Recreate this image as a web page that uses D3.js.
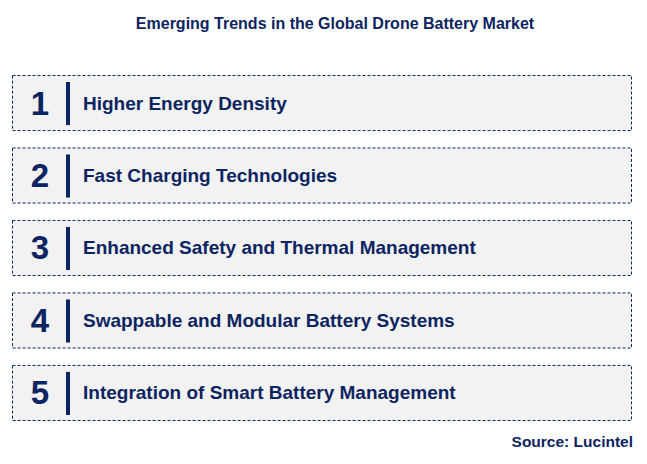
<!DOCTYPE html>
<meta charset="utf-8">
<script src="https://d3js.org/d3.v7.min.js"></script>
<style>body{margin:0;background:#fff;font-family:"Liberation Sans",Arial,sans-serif;}</style>
<div id="chart"></div>
<script>
const ranks = ["1", "2", "3", "4", "5"];
const trends = [
  "Higher Energy Density",
  "Fast Charging Technologies",
  "Enhanced Safety and Thermal Management",
  "Swappable and Modular Battery Systems",
  "Integration of Smart Battery Management"
];

const width = 647, height = 464, navy = "#0c2461";
const svg = d3.select("#chart").append("svg")
  .attr("width", width).attr("height", height);

svg.append("text").attr("x", 335).attr("y", 29).attr("text-anchor", "middle")
  .attr("font-size", 16).attr("font-weight", "bold").attr("fill", navy)
  .text("Emerging Trends in the Global Drone Battery Market");

const y = d3.scaleBand().domain(ranks).range([75, 420]).paddingInner(0.24);

const g = svg.selectAll("g.row").data(ranks).join("g")
  .attr("transform", d => `translate(0,${y(d)})`);

g.append("rect").attr("x", 12.5).attr("y", 0.5).attr("width", 619)
  .attr("height", y.bandwidth()).attr("fill", "#f2f2f2")
  .attr("stroke", navy).attr("stroke-width", 1).attr("stroke-dasharray", "3,2");

g.append("text").attr("x", 40).attr("y", y.bandwidth() / 2 + 12)
  .attr("text-anchor", "middle").attr("font-size", 33).attr("font-weight", "bold")
  .attr("fill", navy).text(d => d);

g.append("rect").attr("x", 66).attr("y", 7).attr("width", 4)
  .attr("height", y.bandwidth() - 12).attr("fill", navy);

g.append("text").attr("x", 83).attr("y", y.bandwidth() / 2 + 7)
  .attr("font-size", 19).attr("font-weight", "bold").attr("fill", navy)
  .text((d, i) => trends[i]);

svg.append("text").attr("x", 633).attr("y", 447).attr("text-anchor", "end")
  .attr("font-size", 15.5).attr("font-weight", "bold").attr("fill", navy)
  .text("Source: Lucintel");
</script>
